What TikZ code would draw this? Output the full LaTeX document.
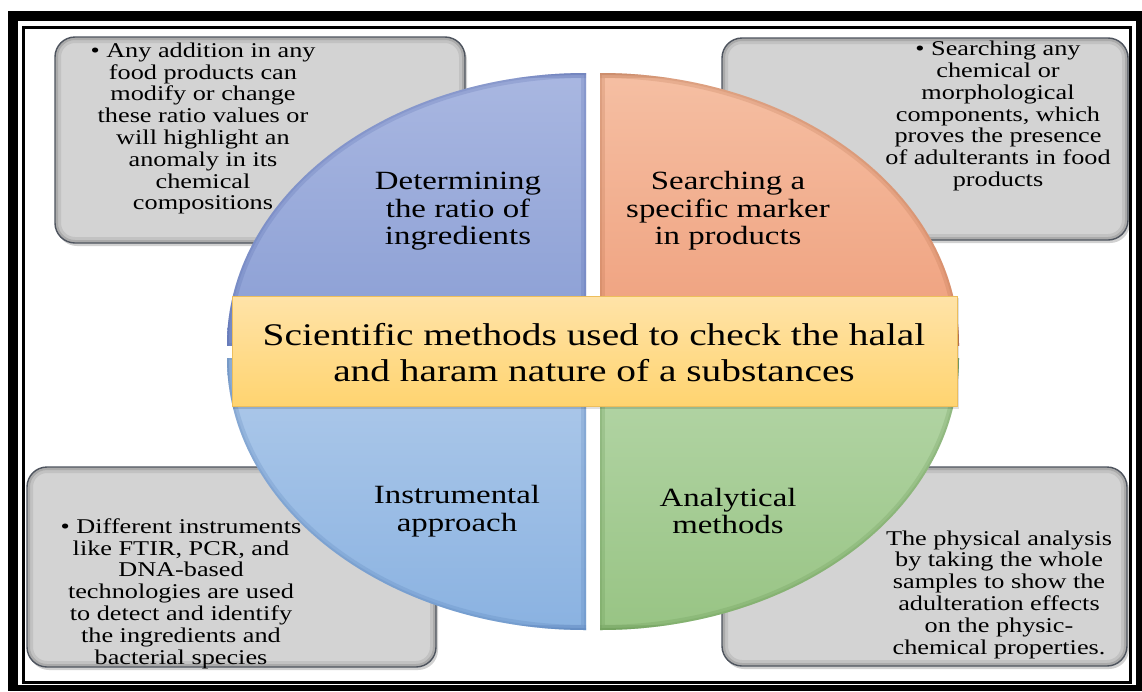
\documentclass[tikz,border=0pt]{standalone}
\usepackage{fontspec}
\setmainfont[FakeStretch=1.25]{Liberation Serif}
\definecolor{boxfill}{HTML}{D3D3D3}
\definecolor{boxedge}{HTML}{4E545E}
\definecolor{tlTop}{HTML}{A9B7E1}
\definecolor{tlBot}{HTML}{8A9ED4}
\definecolor{tlEdge}{HTML}{4F63A8}
\definecolor{trTop}{HTML}{F5BFA3}
\definecolor{trBot}{HTML}{EF9F7C}
\definecolor{trEdge}{HTML}{B06A45}
\definecolor{blTop}{HTML}{AFCAEA}
\definecolor{blBot}{HTML}{8AB2E1}
\definecolor{blEdge}{HTML}{4F78B0}
\definecolor{brTop}{HTML}{B5D6A8}
\definecolor{brBot}{HTML}{98C484}
\definecolor{brEdge}{HTML}{5E8E4A}
\definecolor{bandTop}{HTML}{FFE3A8}
\definecolor{bandBot}{HTML}{FFD470}
\definecolor{bandEdge}{HTML}{EDBE5C}
\newcommand{\mygraybox}[4]{%
  \fill[gbox, black, opacity=0.18] (#1+2,#2+3) rectangle (#3+2,#4+3);
  \fill[gbox, boxfill] (#1,#2) rectangle (#3,#4);
  \begin{scope}
    \clip[gbox] (#1,#2) rectangle (#3,#4);
    \draw[gbox, line width=12pt, black, opacity=0.08] (#1,#2) rectangle (#3,#4);
    \draw[gbox, line width=6pt, black, opacity=0.12] (#1,#2) rectangle (#3,#4);
  \end{scope}
  \draw[gbox, line width=1.4pt, boxedge] (#1,#2) rectangle (#3,#4);
}
\newcommand{\myquad}[7]{% x1 y1 x2 y2 cx cy colour-prefix
  \begin{scope}
    \clip (#1,#2) rectangle (#3,#4);
    \clip (#5,#6) ellipse [x radius=359pt, y radius=272pt];
    \shade[top color=#7Top, bottom color=#7Bot] (#1,#2) rectangle (#3,#4);
    \draw[#7Edge, line width=10pt, opacity=0.2] (#5,#6) ellipse [x radius=359pt, y radius=272pt];
    \draw[#7Edge, line width=10pt, opacity=0.2] (#1,#2) rectangle (#3,#4);
    \draw[#7Edge, line width=4pt, opacity=0.18] (#5,#6) ellipse [x radius=359pt, y radius=272pt];
    \draw[#7Edge, line width=4pt, opacity=0.18] (#1,#2) rectangle (#3,#4);
  \end{scope}
}
\begin{document}
\begin{tikzpicture}[x=1pt,y=-1pt,
  gbox/.style={rounded corners=20pt},
  boxtext/.style={align=center, inner sep=0pt, font=\fontsize{21}{21.8}\selectfont},
  quadtext/.style={align=center, inner sep=0pt, font=\fontsize{26.3}{27.5}\selectfont},
  bandtext/.style={align=center, inner sep=0pt, font=\fontsize{31.5}{36}\selectfont}]
\useasboundingbox (0,0) rectangle (1142,691);
% frame
\fill[black] (8,11) rectangle (1142,691);
\fill[white] (18,21) rectangle (1136,685);
\draw[line width=3pt] (23.5,27.5) rectangle (1130.5,682);
% grey boxes
\mygraybox{55}{37}{465}{243}
\mygraybox{722}{38}{1128}{240}
\mygraybox{27}{467}{436}{667}
\mygraybox{722}{467}{1127}{666}
% quadrants
\myquad{227}{73}{586}{345}{586}{345}{tl}
\myquad{600}{73}{959}{345}{600}{345}{tr}
\myquad{227}{358}{586}{630}{586}{358}{bl}
\myquad{600}{358}{959}{630}{600}{358}{br}
% band
\fill[black, opacity=0.12] (233,298) rectangle (959,409);
\shade[top color=bandTop, bottom color=bandBot] (232,296) rectangle (957,406);
\draw[bandEdge, line width=1pt] (232,296) rectangle (957,406);
% texts
\node[boxtext] (tltext) at (203,128.5) {\textbullet\ Any addition in any\\food products can\\modify or change\\these ratio values or\\will highlight an\\anomaly in its\\chemical\\compositions};
\node[boxtext] (trtext) at (998,116) {\textbullet\ Searching any\\chemical or\\morphological\\components, which\\proves the presence\\of adulterants in food\\products};
\node[boxtext] (bltext) at (181,593.5) {\textbullet\ Different instruments\\like FTIR, PCR, and\\DNA-based\\technologies are used\\to detect and identify\\the ingredients and\\bacterial species};
\node[boxtext] (brtext) at (999,594.5) {The physical analysis\\by taking the whole\\samples to show the\\adulteration effects\\on the physic-\\chemical properties.};
\node[quadtext] (tllabel) at (458,211.5) {Determining\\the ratio of\\ingredients};
\node[quadtext] (trlabel) at (728,211) {Searching a\\specific marker\\in products};
\node[quadtext] (bllabel) at (457,511) {Instrumental\\approach};
\node[quadtext] (brlabel) at (728,511) {Analytical\\methods};
\node[bandtext] (center) at (594,352.5) {Scientific methods used to check the halal\\and haram nature of a substances};
\end{tikzpicture}
\end{document}
